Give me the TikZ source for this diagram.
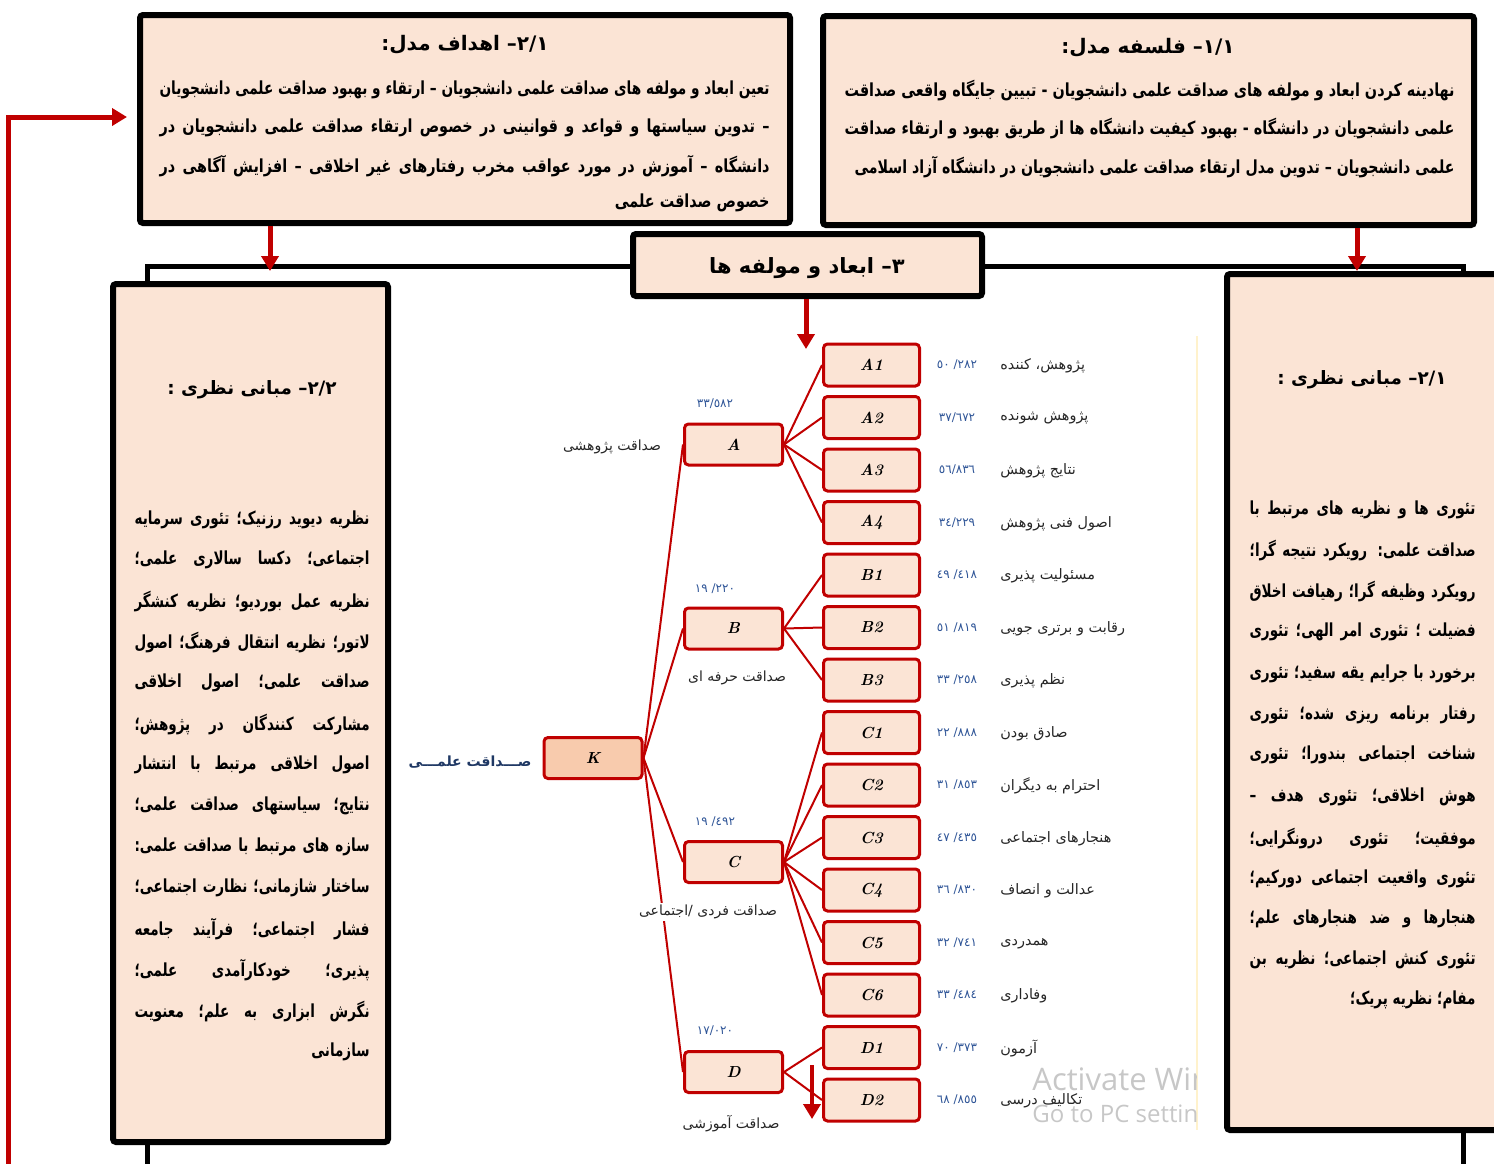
\documentclass[tikz,border=0pt]{standalone}
\usepackage{fontspec}
\usepackage{graphicx}
\usetikzlibrary{arrows.meta}
\TeXXeTstate=1
\newfontfamily\fa[Script=Arabic]{DejaVu Sans}
\newfontfamily\fanum{DejaVu Sans}
\newfontfamily\wmfont{Open Sans}
\definecolor{peach}{RGB}{251,228,213}
\definecolor{kpeach}{RGB}{248,203,173}
\definecolor{dred}{RGB}{192,0,0}
\definecolor{nblue}{RGB}{47,85,151}
\definecolor{kblue}{RGB}{31,56,100}
\definecolor{lyel}{RGB}{255,242,204}
\newsavebox\jlbox
% #1 horizontal scale, #2 target width (pt, number), #3 text
\newcommand\jline[3]{\pgfmathsetlengthmacro\jlw{#2/#1}\sbox\jlbox{#3}\ifdim\wd\jlbox>\jlw\relax\else\sbox\jlbox{\hbox to \jlw{\spaceskip=.3em plus 1fil\relax #3}}\fi\resizebox{#2pt}{\height}{\usebox\jlbox}}
\tikzset{
 bigbox/.style={draw=black, line width=3pt, fill=peach, rounded corners=1.5pt, inner sep=0pt},
 bigframe/.style={draw=black, line width=2.5pt},
 ttl/.style={inner sep=0pt, font=\fa\bfseries\fontsize{10}{12}\selectfont},
 body/.style={inner sep=0pt, anchor=east, font=\fa\bfseries\fontsize{9}{10}\selectfont},
 sbody/.style={inner sep=0pt, anchor=east, font=\fa\bfseries\fontsize{9}{10}\selectfont},
 redarrow/.style={draw=dred, line width=2.5pt, -{Triangle[width=8.5pt,length=7.5pt]}},
 tmid/.style={draw=dred, line width=1.5pt, fill=peach, rounded corners=2pt, minimum width=49pt, minimum height=20.5pt, inner sep=0pt, font=\bfseries\itshape\fontsize{8}{9}\selectfont},
 tleaf/.style={tmid, minimum width=48pt, minimum height=21pt},
 tlink/.style={draw=dred, line width=1pt},
 tnum/.style={inner sep=0pt, text=nblue, font=\fanum\fontsize{6}{7}\selectfont},
 tlbl/.style={inner sep=1pt, fill=white, text=black!85, font=\fa\fontsize{7}{8}\selectfont},
 llbl/.style={inner sep=0pt, anchor=west, text=black!85, font=\fa\fontsize{7.2}{8}\selectfont},
}
\begin{document}
\begin{tikzpicture}[x=0.5pt,y=-0.5pt]
\useasboundingbox (0,0) rectangle (1494,1163);
\clip (0,0) rectangle (1494,1163);
% outer frame
\coordinate (fr1) at (147,1180);
\coordinate (fr2) at (147,266);
\coordinate (fr3) at (1463,266);
\coordinate (fr4) at (1463,1180);
\draw[bigframe] (fr1) -- (fr2) -- (fr3) -- (fr4);
% big boxes
\node[bigbox, minimum width=325pt, minimum height=104pt] (tlbox) at (465,119) {};
\node[bigbox, minimum width=325.5pt, minimum height=104.5pt] (trbox) at (1148.5,120.5) {};
\node[bigbox, minimum width=174.5pt, minimum height=31pt] (cbox) at (807.5,265) {};
\node[bigbox, minimum width=137.5pt, minimum height=429pt] (lbox) at (250.5,713) {};
\node[bigbox, minimum width=141.5pt, minimum height=428pt] (rbox) at (1368.5,702) {};
% titles
\node[ttl] (tlttl) at (465,45) {\beginR ۲/۱\kern0pt– اهداف مدل:\endR};
\node[ttl] (trttl) at (1148,48) {\beginR ۱/۱\kern0pt– فلسفه مدل:\endR};
\node[ttl, font=\fa\bfseries\fontsize{10.5}{13}\selectfont] (cttl) at (807,268) {\beginR ۳\kern0pt– ابعاد و مولفه ها\endR};
\node[ttl, font=\fa\bfseries\fontsize{9.2}{11}\selectfont] (lttl) at (252,390) {\beginR ۲/۲\kern0pt– مبانی نظری :\endR};
\node[ttl, font=\fa\bfseries\fontsize{9.2}{11}\selectfont] (rttl) at (1362,380) {\beginR ۲/۱\kern0pt– مبانی نظری :\endR};
% top-left body
\node[body] (tl1) at (770,90) {\jline{0.8}{305}{\beginR تعین ابعاد و مولفه های صداقت علمی دانشجویان – ارتقاء و بهبود صداقت علمی دانشجویان\endR}};
\node[body] (tl2) at (770,128) {\jline{0.8}{305}{\beginR – تدوین سیاستها و قواعد و قوانینی در خصوص ارتقاء صداقت علمی دانشجویان در\endR}};
\node[body] (tl3) at (770,166) {\jline{0.8}{305}{\beginR دانشگاه – آموزش در مورد عواقب مخرب رفتارهای غیر اخلاقی – افزایش آگاهی در\endR}};
\node[body] (tl4) at (770,203) {\scalebox{0.8}[1]{\beginR خصوص صداقت علمی\endR}};
% top-right body
\node[body] (tr1) at (1455,91) {\jline{0.8}{305}{\beginR نهادینه کردن ابعاد و مولفه های صداقت علمی دانشجویان - تبیین جایگاه واقعی صداقت\endR}};
\node[body] (tr2) at (1455,129) {\jline{0.8}{305}{\beginR علمی دانشجویان در دانشگاه - بهبود کیفیت دانشگاه ها از طریق بهبود و ارتقاء صداقت\endR}};
\node[body] (tr3) at (1455,167) {\jline{0.8}{300}{\beginR علمی دانشجویان – تدوین مدل ارتقاء صداقت علمی دانشجویان در دانشگاه آزاد اسلامی\endR}};
% left box body
\node[sbody] (l1) at (370,520) {\jline{0.75}{117.5}{\beginR نظریه دیوید رزنیک؛ تئوری سرمایه\endR}};
\node[sbody] (l2) at (370,560) {\jline{0.75}{117.5}{\beginR اجتماعی؛ دکسا سالاری علمی؛\endR}};
\node[sbody] (l3) at (370,601) {\jline{0.75}{117.5}{\beginR نظریه عمل بوردیو؛ نظریه کنشگر\endR}};
\node[sbody] (l4) at (370,642) {\jline{0.75}{117.5}{\beginR لاتور؛ نظریه انتقال فرهنگ؛ اصول\endR}};
\node[sbody] (l5) at (370,683) {\jline{0.75}{117.5}{\beginR صداقت علمی؛ اصول اخلاقی\endR}};
\node[sbody] (l6) at (370,724) {\jline{0.75}{117.5}{\beginR مشارکت کنندگان در پژوهش؛\endR}};
\node[sbody] (l7) at (370,765) {\jline{0.75}{117.5}{\beginR اصول اخلاقی مرتبط با انتشار\endR}};
\node[sbody] (l8) at (370,806) {\jline{0.75}{117.5}{\beginR نتایج؛ سیاستهای صداقت علمی؛\endR}};
\node[sbody] (l9) at (370,847) {\jline{0.75}{117.5}{\beginR سازه های مرتبط با صداقت علمی:\endR}};
\node[sbody] (l10) at (370,888) {\jline{0.75}{117.5}{\beginR ساختار شازمانی؛ نظارت اجتماعی؛\endR}};
\node[sbody] (l11) at (370,929) {\jline{0.75}{117.5}{\beginR فشار اجتماعی؛ فرآیند جامعه\endR}};
\node[sbody] (l12) at (370,970) {\jline{0.75}{117.5}{\beginR پذیری؛ خودکارآمدی علمی؛\endR}};
\node[sbody] (l13) at (370,1011) {\jline{0.75}{117.5}{\beginR نگرش ابزاری به علم؛ معنویت\endR}};
\node[sbody] (l14) at (370,1052) {\scalebox{0.75}[1]{\beginR سازمانی\endR}};
% right box body
\node[sbody] (r1) at (1476,510) {\jline{0.75}{113}{\beginR تئوری ها و نظریه های مرتبط با\endR}};
\node[sbody] (r2) at (1476,550) {\jline{0.75}{113}{\beginR صداقت علمی: رویکرد نتیجه گرا؛\endR}};
\node[sbody] (r3) at (1476,591) {\jline{0.75}{113}{\beginR رویکرد وظیفه گرا؛ رهیافت اخلاق\endR}};
\node[sbody] (r4) at (1476,632) {\jline{0.75}{113}{\beginR فضیلت ؛ تئوری امر الهی؛ تئوری\endR}};
\node[sbody] (r5) at (1476,674) {\jline{0.75}{113}{\beginR برخورد با جرایم یقه سفید؛ تئوری\endR}};
\node[sbody] (r6) at (1476,715) {\jline{0.75}{113}{\beginR رفتار برنامه ریزی شده؛ تئوری\endR}};
\node[sbody] (r7) at (1476,755) {\jline{0.75}{113}{\beginR شناخت اجتماعی بندورا؛ تئوری\endR}};
\node[sbody] (r8) at (1476,797) {\jline{0.75}{113}{\beginR هوش اخلاقی؛ تئوری هدف –\endR}};
\node[sbody] (r9) at (1476,838) {\jline{0.75}{113}{\beginR موفقیت؛ تئوری درونگرایی؛\endR}};
\node[sbody] (r10) at (1476,879) {\jline{0.75}{113}{\beginR تئوری واقعیت اجتماعی دورکیم؛\endR}};
\node[sbody] (r11) at (1476,919) {\jline{0.75}{113}{\beginR هنجارها و ضد هنجارهای علم؛\endR}};
\node[sbody] (r12) at (1476,960) {\jline{0.75}{113}{\beginR تئوری کنش اجتماعی؛ نظریه بن\endR}};
\node[sbody] (r13) at (1476,1000) {\scalebox{0.75}[1]{\beginR مفام؛ نظریه پریک؛\endR}};
% red arrows
\coordinate (a1e) at (270,271);
\coordinate (a2e) at (1357,271);
\coordinate (a3e) at (806,349);
\coordinate (fb0) at (8,1180);
\coordinate (fbe) at (127,117);
\coordinate (sa0) at (812,1065);
\coordinate (sa1) at (812,1119);
\draw[redarrow] (tlbox.south -| a1e) -- (a1e);
\draw[redarrow] (trbox.south -| a2e) -- (a2e);
\draw[redarrow] (cbox.south -| a3e) -- (a3e);
\draw[redarrow] (fb0) |- (fbe);
% light separator line
\draw[draw=lyel, line width=1pt] (1197,336) -- (1197,1130);
% tree nodes
\node[tmid, fill=kpeach] (K) at (593,758) {K};
\node[tmid] (A) at (733.5,444.5) {A};
\node[tmid] (B) at (733.5,628.5) {B};
\node[tmid] (C) at (733.5,862) {C};
\node[tmid] (D) at (733.5,1072) {D};
\node[tleaf] (A1) at (871.5,365) {A1};
\node[tleaf] (A2) at (871.5,417.5) {A2};
\node[tleaf] (A3) at (871.5,470) {A3};
\node[tleaf] (A4) at (871.5,522.5) {A4};
\node[tleaf] (B1) at (871.5,575) {B1};
\node[tleaf] (B2) at (871.5,627.5) {B2};
\node[tleaf] (B3) at (871.5,680) {B3};
\node[tleaf] (C1) at (871.5,732.5) {C1};
\node[tleaf] (C2) at (871.5,785) {C2};
\node[tleaf] (C3) at (871.5,837.5) {C3};
\node[tleaf] (C4) at (871.5,890) {C4};
\node[tleaf] (C5) at (871.5,942.5) {C5};
\node[tleaf] (C6) at (871.5,995) {C6};
\node[tleaf] (D1) at (871.5,1047.5) {D1};
\node[tleaf] (D2) at (871.5,1100) {D2};
% tree links
\foreach \m in {A,B,C,D} {\draw[tlink] (K.east) -- (\m.west);}
\foreach \m in {A1,A2,A3,A4} {\draw[tlink] (A.east) -- (\m.west);}
\foreach \m in {B1,B2,B3} {\draw[tlink] (B.east) -- (\m.west);}
\foreach \m in {C1,C2,C3,C4,C5,C6} {\draw[tlink] (C.east) -- (\m.west);}
\foreach \m in {D1,D2} {\draw[tlink] (D.east) -- (\m.west);}
% labels
\node[tlbl, text=kblue, font=\fa\bfseries\fontsize{7}{8}\selectfont] (Kl) at (470,762) {\beginR صـــداقت علمـــی\endR};
\node[tlbl] (Al) at (612,447) {\beginR صداقت پژوهشی\endR};
\node[tlbl] (Bl) at (737,678) {\beginR صداقت حرفه ای\endR};
\node[tlbl] (Cl) at (708,912) {\beginR صداقت فردی /اجتماعی\endR};
\node[tlbl] (Dl) at (731,1124) {\beginR صداقت آموزشی\endR};
\node[tnum] (An) at (715,404) {٣٣/٥٨٢};
\node[tnum] (Bn) at (715,589) {\beginR /٢٢٠ ١٩\endR};
\node[tnum] (Cn) at (715,822) {\beginR /٤٩٢ ١٩\endR};
\node[tnum] (Dn) at (715,1031) {١٧/٠٢٠};
% leaf numbers
\node[tnum] (A1n) at (957,365) {\beginR /٢٨٢ ٥٠\endR};
\node[tnum] (A2n) at (957,417.5) {٣٧/٦٧٢};
\node[tnum] (A3n) at (957,470) {٥٦/٨٣٦};
\node[tnum] (A4n) at (957,522.5) {٣٤/٢٢٩};
\node[tnum] (B1n) at (957,575) {\beginR /٤١٨ ٤٩\endR};
\node[tnum] (B2n) at (957,627.5) {\beginR /٨١٩ ٥١\endR};
\node[tnum] (B3n) at (957,680) {\beginR /٢٥٨ ٣٣\endR};
\node[tnum] (C1n) at (957,732.5) {\beginR /٨٨٨ ٢٢\endR};
\node[tnum] (C2n) at (957,785) {\beginR /٨٥٣ ٣١\endR};
\node[tnum] (C3n) at (957,837.5) {\beginR /٤٣٥ ٤٧\endR};
\node[tnum] (C4n) at (957,890) {\beginR /٨٣٠ ٣٦\endR};
\node[tnum] (C5n) at (957,942.5) {\beginR /٧٤١ ٣٢\endR};
\node[tnum] (C6n) at (957,995) {\beginR /٤٨٤ ٣٣\endR};
\node[tnum] (D1n) at (957,1047.5) {\beginR /٣٧٣ ٧٠\endR};
\node[tnum] (D2n) at (957,1100) {\beginR /٨٥٥ ٦٨\endR};
% leaf labels
\node[llbl] (A1l) at (1000,366) {\beginR پژوهش، کننده\endR};
\node[llbl] (A2l) at (1000,418.5) {\beginR پژوهش شونده\endR};
\node[llbl] (A3l) at (1000,471) {\beginR نتایج پژوهش\endR};
\node[llbl] (A4l) at (1000,523.5) {\beginR اصول فنی پژوهش\endR};
\node[llbl] (B1l) at (1000,576) {\beginR مسئولیت پذیری\endR};
\node[llbl] (B2l) at (1000,628.5) {\beginR رقابت و برتری جویی\endR};
\node[llbl] (B3l) at (1000,681) {\beginR نظم پذیری\endR};
\node[llbl] (C1l) at (1000,733.5) {\beginR صادق بودن\endR};
\node[llbl] (C2l) at (1000,786) {\beginR احترام به دیگران\endR};
\node[llbl] (C3l) at (1000,838.5) {\beginR هنجارهای اجتماعی\endR};
\node[llbl] (C4l) at (1000,891) {\beginR عدالت و انصاف\endR};
\node[llbl] (C5l) at (1000,943.5) {\beginR همدردی\endR};
\node[llbl] (C6l) at (1000,996) {\beginR وفاداری\endR};
\node[llbl] (D1l) at (1000,1048.5) {\beginR آزمون\endR};
\node[llbl] (D2l) at (1000,1101) {\beginR تکالیف درسی\endR};
% small arrow
\draw[redarrow, line width=2pt] (sa0) -- (sa1);
% watermark
\begin{scope}
\clip (1000,1040) rectangle (1196,1140);
\node[anchor=base west, inner sep=0pt, text=black!22, font=\wmfont\fontsize{15.5}{18}\selectfont] (wm1) at (1032,1090) {Activate Windows};
\node[anchor=base west, inner sep=0pt, text=black!22, font=\wmfont\fontsize{12}{14}\selectfont] (wm2) at (1032,1122) {Go to PC settings};
\end{scope}
\end{tikzpicture}
\end{document}
